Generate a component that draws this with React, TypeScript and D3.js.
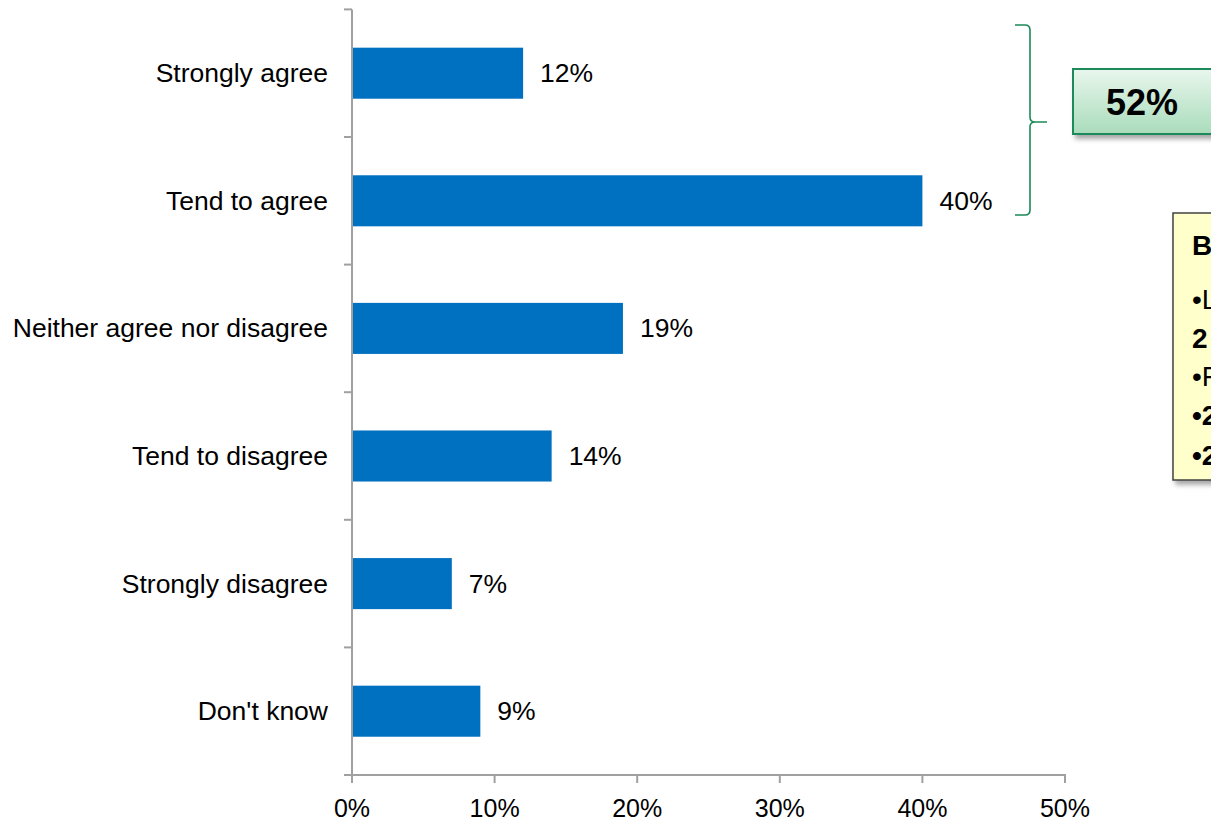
import React from "react";
import * as d3 from "d3";

const categories = [
  "Strongly agree",
  "Tend to agree",
  "Neither agree nor disagree",
  "Tend to disagree",
  "Strongly disagree",
  "Don't know",
];
const values = [12, 40, 19, 14, 7, 9];
const xTicks = [0, 10, 20, 30, 40, 50];
const totalLabel = "52%";
const noteLines = [
  { text: "B", bold: true },
  { text: "•L", bold: false },
  { text: "2", bold: true },
  { text: "•F", bold: false },
  { text: "•2", bold: true },
  { text: "•2", bold: true },
];

const W = 1211;
const H = 829;
const FONT = "Liberation Sans, Arial, sans-serif";

export default function App() {
  const x = d3.scaleLinear().domain([0, 50]).range([352, 1065]);
  const y = d3
    .scaleBand<string>()
    .domain(categories)
    .range([9.4, 775])
    .paddingInner(0.6)
    .paddingOuter(0.3);
  const step = y.step();
  const top = 9.4;
  const bottom = 775;
  const boundaries = d3.range(categories.length + 1).map((i) => top + i * step);

  // bracket geometry
  const bx0 = 1015;
  const bx1 = 1030;
  const by0 = 25;
  const by1 = 215;
  const bym = 122;
  const tip = 1047;
  const r = 5;
  const bracket = [
    `M${bx0},${by0}`,
    `L${bx1 - r},${by0}`,
    `Q${bx1},${by0} ${bx1},${by0 + r}`,
    `L${bx1},${bym - r}`,
    `Q${bx1},${bym} ${bx1 + r},${bym}`,
    `L${tip},${bym}`,
    `M${bx1 + r},${bym}`,
    `Q${bx1},${bym} ${bx1},${bym + r}`,
    `L${bx1},${by1 - r}`,
    `Q${bx1},${by1} ${bx1 - r},${by1}`,
    `L${bx0},${by1}`,
  ].join(" ");

  const noteY = [255, 309, 348, 386, 425, 465];

  return (
    <svg
      width={W}
      height={H}
      style={{ position: "absolute", left: 0, top: 0, background: "#fff" }}
      fontFamily={FONT}
    >
      <defs>
        <linearGradient id="greenGrad" x1="0" y1="0" x2="0" y2="1">
          <stop offset="0%" stopColor="#e9f6ed" />
          <stop offset="100%" stopColor="#a9dcbb" />
        </linearGradient>
        <filter id="shadow" x="-20%" y="-20%" width="150%" height="160%">
          <feDropShadow dx="3" dy="4" stdDeviation="2.5" floodColor="#000" floodOpacity="0.35" />
        </filter>
      </defs>

      {/* bars */}
      {categories.map((c, i) => (
        <rect
          key={c}
          x={x(0)}
          y={y(c)!}
          width={x(values[i]) - x(0)}
          height={y.bandwidth()}
          fill="#0070C0"
        />
      ))}

      {/* y axis */}
      <line x1={352} x2={352} y1={top} y2={bottom} stroke="#a0a0a0" strokeWidth={2} />
      {boundaries.map((b, i) => (
        <line key={i} x1={344} x2={352} y1={b} y2={b} stroke="#a0a0a0" strokeWidth={2} />
      ))}

      {/* x axis */}
      <line x1={352} x2={1066} y1={bottom} y2={bottom} stroke="#a0a0a0" strokeWidth={2} />
      {xTicks.map((t) => (
        <g key={t}>
          <line x1={x(t)} x2={x(t)} y1={bottom} y2={bottom + 8} stroke="#a0a0a0" strokeWidth={2} />
          <text
            x={x(t)}
            y={808}
            textAnchor="middle"
            dominantBaseline="central"
            fontSize={25}
            fill="#000"
          >
            {t}%
          </text>
        </g>
      ))}

      {/* category labels */}
      {categories.map((c) => (
        <text
          key={c}
          x={328}
          y={y(c)! + y.bandwidth() / 2}
          textAnchor="end"
          dominantBaseline="central"
          fontSize={26.5}
          fill="#000"
        >
          {c}
        </text>
      ))}

      {/* value labels */}
      {categories.map((c, i) => (
        <text
          key={c}
          x={x(values[i]) + 17}
          y={y(c)! + y.bandwidth() / 2}
          dominantBaseline="central"
          fontSize={26.5}
          fill="#000"
        >
          {values[i]}%
        </text>
      ))}

      {/* bracket */}
      <path d={bracket} fill="none" stroke="#1a8a5a" strokeWidth={1.6} />

      {/* total box */}
      <rect
        x={1073}
        y={69}
        width={140}
        height={65}
        fill="url(#greenGrad)"
        stroke="#1a8a5a"
        strokeWidth={2}
        filter="url(#shadow)"
      />
      <text
        x={1142}
        y={102}
        textAnchor="middle"
        dominantBaseline="central"
        fontSize={36}
        fontWeight="bold"
        fill="#000"
      >
        {totalLabel}
      </text>

      {/* note box */}
      <rect
        x={1173}
        y={213}
        width={60}
        height={267}
        fill="#ffffcc"
        stroke="#404040"
        strokeWidth={1.5}
        filter="url(#shadow)"
      />
      {noteLines.map((l, i) => (
        <text
          key={i}
          x={1192}
          y={noteY[i]}
          fontSize={28}
          fontWeight={l.bold ? "bold" : "normal"}
          fill="#000"
        >
          {l.text}
        </text>
      ))}
    </svg>
  );
}
